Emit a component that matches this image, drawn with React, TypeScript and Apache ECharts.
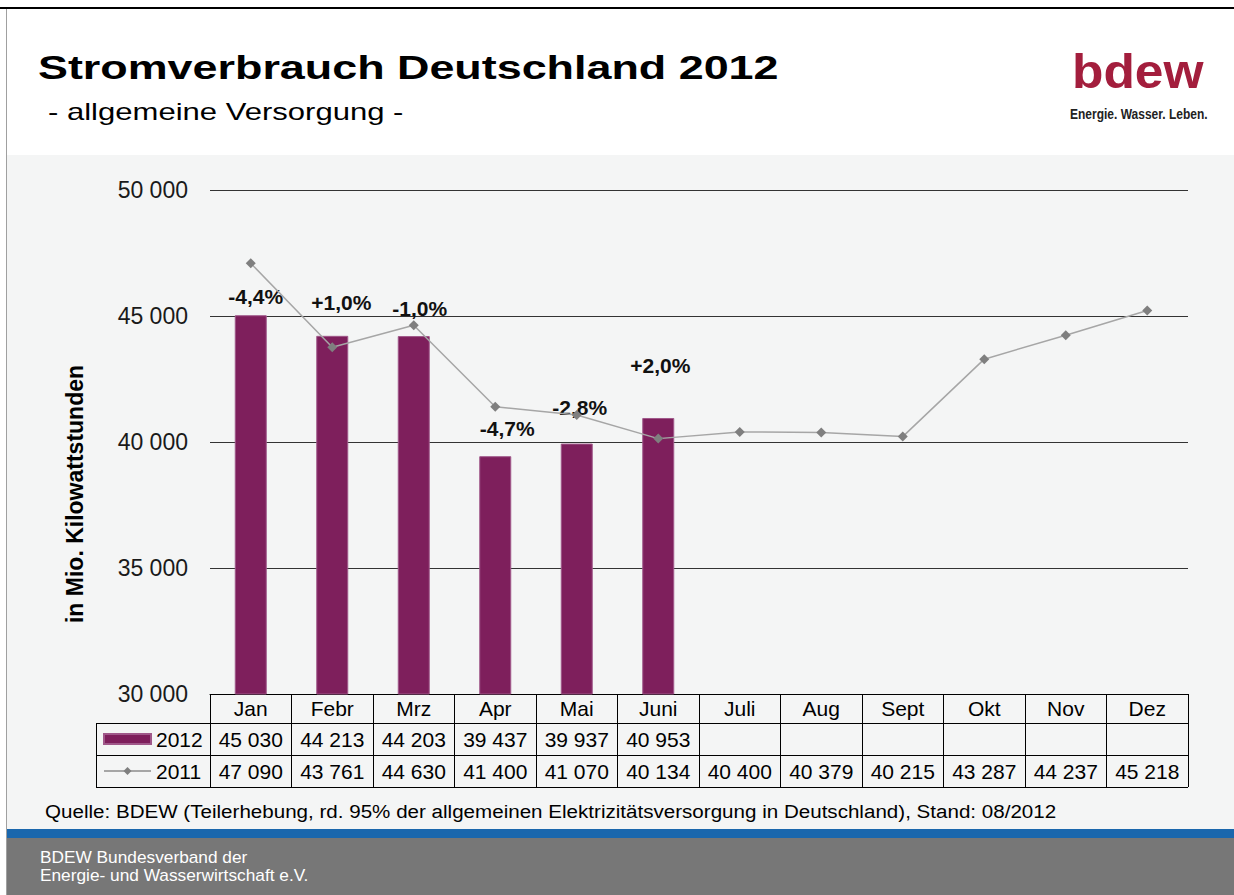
import React, { useEffect, useRef } from 'react';
import * as echarts from 'echarts';

const MONTHS = ['Jan', 'Febr', 'Mrz', 'Apr', 'Mai', 'Juni', 'Juli', 'Aug', 'Sept', 'Okt', 'Nov', 'Dez'];
const VALUES_2012 = [45030, 44213, 44203, 39437, 39937, 40953];
const VALUES_2011 = [47090, 43761, 44630, 41400, 41070, 40134, 40400, 40379, 40215, 43287, 44237, 45218];
const SERIES_2012 = '2012';
const SERIES_2011 = '2011';
const Y_MIN = 30000;
const Y_MAX = 50000;
const Y_INTERVAL = 5000;

const TITLE = 'Stromverbrauch Deutschland 2012';
const SUBTITLE = '- allgemeine Versorgung -';
const Y_NAME = 'in Mio. Kilowattstunden';
const SOURCE = 'Quelle: BDEW (Teilerhebung, rd. 95% der allgemeinen Elektrizitätsversorgung in Deutschland), Stand: 08/2012';
const FOOTER_1 = 'BDEW Bundesverband der';
const FOOTER_2 = 'Energie- und Wasserwirtschaft e.V.';
const LOGO = 'bdew';
const TAGLINE = 'Energie. Wasser. Leben.';

// label placement tweaks (style only)
const PCT_LABEL_OFFSETS = [[5, -3], [9, -17], [6, -12], [12, -12], [3, -20], [2, -36]];

const FONT = "'Liberation Sans', Arial, Helvetica, sans-serif";

const fmt = (v: any) => (v == null || v === '' ? '' : String(v).replace(/\B(?=(\d{3})+(?!\d))/g, ' '));
const pct = (i: number) => {
  const p = (VALUES_2012[i] / VALUES_2011[i] - 1) * 100;
  return (p >= 0 ? '+' : '') + p.toFixed(1).replace('.', ',') + '%';
};

const txt = (text: string, x: number, y: number, font: string, fill: string, extra: any = {}) => ({
  type: 'text',
  x,
  y,
  z: 10,
  ...extra,
  style: {
    text,
    font,
    fill,
    align: extra.align || 'left',
    textAlign: extra.align || 'left',
    verticalAlign: 'middle',
    textVerticalAlign: 'middle',
  },
});

const ln = (x1: number, y1: number, x2: number, y2: number, stroke = '#000') => ({
  type: 'line',
  z: 10,
  shape: { x1, y1, x2, y2 },
  style: { stroke, lineWidth: 1 },
});

export default function App() {
  const ref = useRef<HTMLDivElement>(null);

  useEffect(() => {
    if (!ref.current) return;
    const chart = echarts.init(ref.current, undefined, { renderer: 'svg' });

    const tableAxis = (offset: number, tickLen: number, margin: number, formatter?: any) => ({
      type: 'category',
      data: MONTHS,
      position: 'bottom',
      offset,
      axisLine: { show: true, lineStyle: { color: '#000', width: 1 } },
      axisTick: { show: true, length: tickLen, interval: 0, lineStyle: { color: '#000', width: 1 } },
      axisLabel: {
        interval: 0,
        margin,
        fontSize: 21,
        lineHeight: 21,
        color: '#000',
        fontFamily: FONT,
        ...(formatter ? { formatter } : {}),
      },
      splitLine: { show: false },
    });

    const option: any = {
      animation: false,
      textStyle: { fontFamily: FONT },
      grid: { left: 210, right: 46, top: 190, bottom: 201, containLabel: false },
      legend: {
        orient: 'vertical',
        left: 103,
        top: 723,
        padding: 0,
        itemGap: 0,
        itemWidth: 47,
        itemHeight: 10,
        selectedMode: false,
        data: [{ name: SERIES_2012, icon: 'rect' }, { name: SERIES_2011 }],
        textStyle: { fontSize: 21, lineHeight: 32, color: '#000', fontFamily: FONT, padding: [0, 0, 0, 0] },
      },
      xAxis: [
        tableAxis(0, 29, 4),
        tableAxis(29, 32, 5.5, (_v: any, i: number) => fmt(VALUES_2012[i])),
        tableAxis(61, 32, 5.5, (_v: any, i: number) => fmt(VALUES_2011[i])),
      ],
      yAxis: {
        type: 'value',
        min: Y_MIN,
        max: Y_MAX,
        interval: Y_INTERVAL,
        axisLine: { show: false },
        axisTick: { show: false },
        axisLabel: { formatter: fmt, fontSize: 23, color: '#1a1a1a', margin: 22, fontFamily: FONT },
        splitLine: { lineStyle: { color: '#333', width: 1 } },
      },
      series: [
        {
          name: SERIES_2012,
          type: 'bar',
          xAxisIndex: 0,
          barWidth: 32,
          data: VALUES_2012.map((v, i) => ({ value: v, label: { offset: PCT_LABEL_OFFSETS[i] } })),
          itemStyle: { color: '#7e1f5c', borderColor: '#a0588a', borderWidth: 1 },
          label: {
            show: true,
            position: 'top',
            distance: 5,
            fontSize: 21,
            lineHeight: 22,
            fontWeight: 'bold',
            color: '#111',
            fontFamily: FONT,
            formatter: (p: any) => pct(p.dataIndex),
          },
        },
        {
          name: SERIES_2011,
          type: 'line',
          xAxisIndex: 0,
          data: VALUES_2011,
          symbol: 'diamond',
          symbolSize: 10,
          itemStyle: { color: '#7f7f7f' },
          lineStyle: { color: '#a6a6a6', width: 1.5 },
          z: 3,
        },
      ],
      graphic: [
        { type: 'rect', z: -10, shape: { x: 7, y: 155, width: 1227, height: 674 }, style: { fill: '#f4f5f5' } },
        { type: 'rect', z: -10, shape: { x: 7, y: 829, width: 1227, height: 9 }, style: { fill: '#1a67ad' } },
        { type: 'rect', z: -10, shape: { x: 7, y: 838, width: 1227, height: 57 }, style: { fill: '#777777' } },
        { type: 'rect', z: -10, shape: { x: 0, y: 7, width: 1234, height: 2 }, style: { fill: '#000' } },
        { type: 'rect', z: -10, shape: { x: 6, y: 9, width: 1, height: 886 }, style: { fill: '#a0a0a0' } },
        txt(TITLE, 38, 67, `bold 33px ${FONT}`, '#000', { scaleX: 1.36 }),
        txt(SUBTITLE, 48, 112.5, `23px ${FONT}`, '#000', { scaleX: 1.35 }),
        txt(LOGO, 1072, 71.5, `bold 49px ${FONT}`, '#a31e3d', { scaleX: 1.05 }),
        txt(TAGLINE, 1070, 114, `bold 15px ${FONT}`, '#222', { scaleX: 0.8 }),
        txt(Y_NAME, 75, 494, `bold 23px ${FONT}`, '#000', { rotation: Math.PI / 2, align: 'center' }),
        txt(SOURCE, 45, 811.5, `19px ${FONT}`, '#000', { scaleX: 1.084 }),
        txt(FOOTER_1, 40, 858, `16px ${FONT}`, '#fff', { scaleX: 1.08 }),
        txt(FOOTER_2, 40, 876, `16px ${FONT}`, '#fff', { scaleX: 1.08 }),
        ln(96, 723.5, 210, 723.5),
        ln(96, 755.5, 210, 755.5),
        ln(96, 787.5, 1188, 787.5),
        ln(96.5, 723, 96.5, 788),
      ],
    };

    chart.setOption(option);
    return () => chart.dispose();
  }, []);

  return <div ref={ref} style={{ position: 'absolute', left: 0, top: 0, width: 1234, height: 895 }} />;
}
